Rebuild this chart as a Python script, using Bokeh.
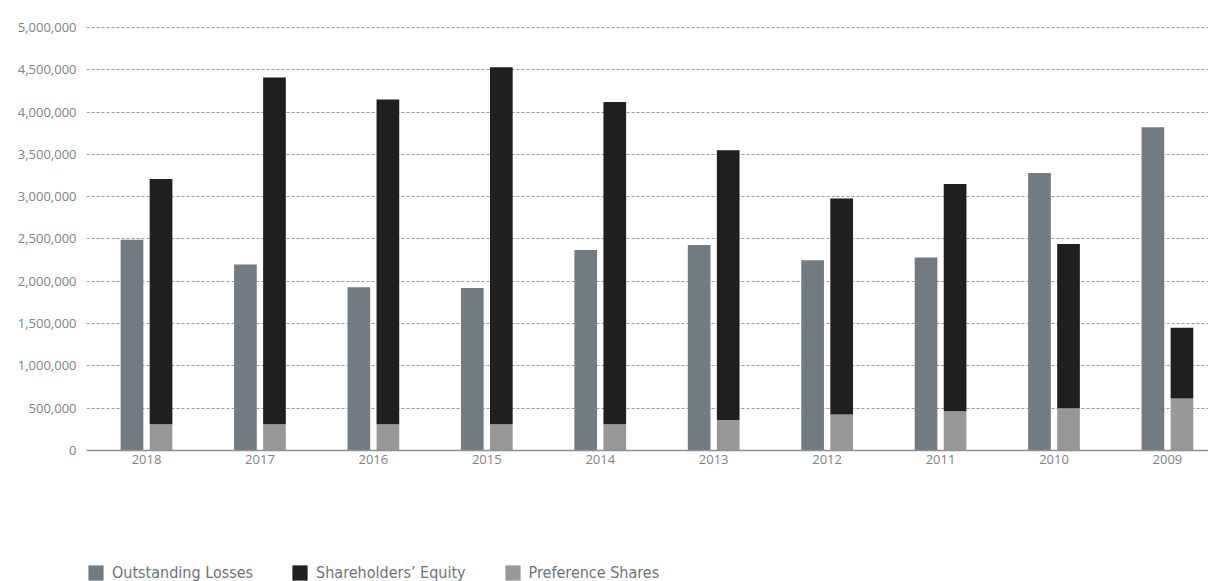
import numpy as np
from bokeh.plotting import figure
from bokeh.layouts import column
from bokeh.models import (ColumnDataSource, Range1d, FixedTicker, NumeralTickFormatter,
                          Legend, LegendItem)
from bokeh.transform import dodge
from bokeh.embed import file_html
from bokeh.resources import INLINE

years = ["2018", "2017", "2016", "2015", "2014", "2013", "2012", "2011", "2010", "2009"]
outstanding_losses = [2490000, 2200000, 1930000, 1920000, 2370000, 2430000, 2250000, 2280000, 3280000, 3820000]
preference_shares = [310000, 310000, 310000, 310000, 310000, 360000, 425000, 465000, 500000, 615000]
equity_plus_pref = [3210000, 4410000, 4150000, 4530000, 4120000, 3550000, 2980000, 3150000, 2440000, 1450000]
shareholders_equity = [t - p for t, p in zip(equity_plus_pref, preference_shares)]
y_ticks = [0, 500000, 1000000, 1500000, 2000000, 2500000, 3000000, 3500000, 4000000, 4500000, 5000000]
series_names = ["Outstanding Losses", "Shareholders\u2019 Equity", "Preference Shares"]

C_OL = "#737b82"
C_SE = "#201f20"
C_PS = "#989898"
AXIS_TXT = "#7d8288"

idx = list(range(len(years)))
src = ColumnDataSource(dict(x=idx, ol=outstanding_losses, pref=preference_shares,
                            eq=shareholders_equity))

p = figure(width=1208, height=490, output_backend="svg", toolbar_location=None,
           x_range=Range1d(-0.529, 9.362), y_range=Range1d(0, 5011820),
           min_border_left=86, min_border_right=0, min_border_top=26, min_border_bottom=40)
p.outline_line_color = None
p.background_fill_color = "white"

bw = 0.2
r_ol = p.vbar(x=dodge("x", -0.128, range=p.x_range), top="ol", width=bw, source=src,
              fill_color=C_OL, line_color=None)
r_stack = p.vbar_stack(["pref", "eq"], x=dodge("x", 0.128, range=p.x_range), width=bw,
                       source=src, color=[C_PS, C_SE], line_color=None)

p.xgrid.grid_line_color = None
p.ygrid.grid_line_color = "#9a9a9a"
p.ygrid.grid_line_dash = "3 2"
p.ygrid.grid_line_width = 1
p.ygrid.ticker = FixedTicker(ticks=y_ticks[1:])

p.yaxis.ticker = FixedTicker(ticks=y_ticks)
p.yaxis.formatter = NumeralTickFormatter(format="0,0")
p.yaxis.axis_line_color = None
p.yaxis.major_tick_line_color = None
p.yaxis.minor_tick_line_color = None
p.yaxis.major_tick_out = 0
p.yaxis.minor_tick_out = 0
p.yaxis.major_label_standoff = 10
p.yaxis.major_label_text_font = "Open Sans"
p.yaxis.major_label_text_font_size = "13px"
p.yaxis.major_label_text_color = AXIS_TXT

p.xaxis.ticker = FixedTicker(ticks=idx)
p.xaxis.major_label_overrides = {i: y for i, y in zip(idx, years)}
p.xaxis.axis_line_color = "#8c9196"
p.xaxis.axis_line_width = 1.5
p.xaxis.major_tick_line_color = None
p.xaxis.minor_tick_line_color = None
p.xaxis.major_tick_out = 0
p.xaxis.minor_tick_out = 0
p.xaxis.major_label_standoff = 4
p.xaxis.major_label_text_font = "Open Sans"
p.xaxis.major_label_text_font_size = "13px"
p.xaxis.major_label_text_color = AXIS_TXT

# legend strip below the chart (zero-width proxy bars, only their legend swatches show)
lg = figure(width=1208, height=91, output_backend="svg", toolbar_location=None,
            x_range=Range1d(-0.5, 9.5), y_range=Range1d(-2, -1),
            x_axis_location=None, y_axis_location=None,
            min_border_left=0, min_border_right=0, min_border_top=0, min_border_bottom=0)
lg.grid.visible = False
lg.outline_line_color = None
k_ol = lg.vbar(x="x", top="ol", width=0, source=src, fill_color=C_OL, line_color=None)
k_se = lg.vbar(x="x", top="eq", width=0, source=src, fill_color=C_SE, line_color=None)
k_ps = lg.vbar(x="x", top="pref", width=0, source=src, fill_color=C_PS, line_color=None)

legend = Legend(items=[
    LegendItem(label=series_names[0], renderers=[k_ol]),
    LegendItem(label=series_names[1], renderers=[k_se]),
    LegendItem(label=series_names[2], renderers=[k_ps]),
], orientation="horizontal", padding=0, margin=0, spacing=37, location=(0, -1),
    glyph_width=19, glyph_height=19, label_standoff=7,
    label_text_font="'Liberation Sans Narrow', 'DejaVu Sans Condensed', 'Open Sans'",
    label_text_font_size="16px", label_text_color="#6d737a",
    background_fill_alpha=0, border_line_color=None)
lg.add_layout(legend, "center")

layout = column(p, lg, spacing=0)
open("out.html", "w").write(file_html(layout, INLINE))
